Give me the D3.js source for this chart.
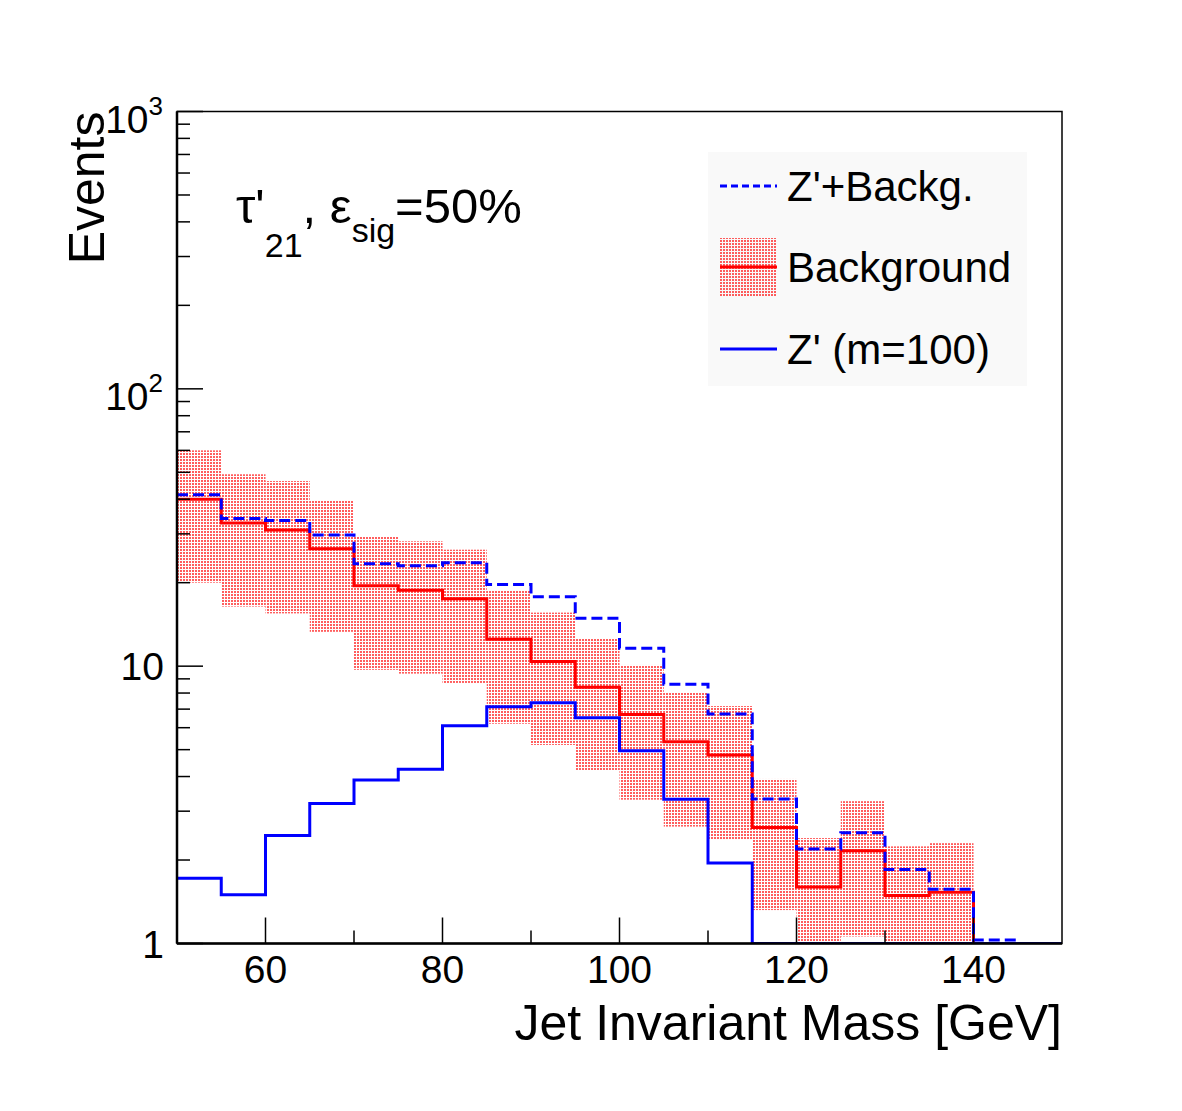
<!DOCTYPE html>
<html>
<head>
<meta charset="utf-8">
<script src="https://cdn.jsdelivr.net/npm/d3@7"></script>
<style>
body { margin: 0; background: #fff; }
text { font-family: "Liberation Sans", Arial, Helvetica, sans-serif; fill: #000; }
</style>
</head>
<body>
<div id="chart"></div>
<script>
// Jet mass histogram, log y

//data
var binLow = [50, 55, 60, 65, 70, 75, 80, 85, 90, 95, 100, 105, 110, 115, 120, 125, 130, 135, 140, 145];
var binWidth = 5;

var background = [40.0, 32.8, 31.0, 26.5, 19.5, 18.8, 17.5, 12.5, 10.4, 8.4, 6.7, 5.34, 4.78, 2.62, 1.60, 2.16, 1.49, 1.53, 0.5, 0];
var backgroundErr = [20.0, 16.4, 15.5, 13.2, 9.8, 9.4, 8.8, 6.3, 5.2, 4.2, 3.4, 2.7, 2.4, 1.3, 0.8, 1.1, 0.75, 0.77, 0.25, 0];
var signal = [1.72, 1.50, 2.45, 3.20, 3.89, 4.25, 6.10, 7.14, 7.38, 6.52, 4.95, 3.31, 1.95, 0.7, 0.59, 0.35, 0.36, 0.04, 0.53, 0];
var total = [41.5, 34.1, 33.5, 29.7, 23.4, 23.0, 23.6, 19.7, 17.8, 14.9, 11.6, 8.61, 6.72, 3.32, 2.19, 2.51, 1.85, 1.57, 1.03, 0];

var xTicks = [60, 80, 100, 120, 140];
var xMinorTicks = [70, 90, 110, 130];
var legendLabels = ["Z'+Backg.", "Background", "Z' (m=100)"];

var W = 1182, H = 1111;
var m = [111.5, 120, 167.5, 177]; //top right bottom left
var x0 = m[3], x1 = W - m[1], y0 = m[0], y1 = H - m[2];
var yMin = 1, yMax = 1000;

var x = d3.scaleLinear().domain([50, 150]).range([x0, x1]);
var y = d3.scaleLog().domain([yMin, yMax]).range([y1, y0]);

function yc(v) { return y(Math.max(yMin, Math.min(yMax, v))); }

var svg = d3.select("#chart").append("svg")
	.attr("width", W)
	.attr("height", H);

var defs = svg.append("defs");

// dotted fill like ROOT style 3001
var pat = defs.append("pattern")
	.attr("id", "dots")
	.attr("patternUnits", "userSpaceOnUse")
	.attr("width", 3)
	.attr("height", 3);
pat.append("rect")
	.attr("width", 2).attr("height", 2)
	.attr("fill", "#ff1a1a")
	.attr("fill-opacity", 0.7);

defs.append("clipPath")
	.attr("id", "clip")
	.append("rect")
	.attr("x", x0).attr("y", y0)
	.attr("width", x1 - x0).attr("height", y1 - y0);

var plot = svg.append("g").attr("clip-path", "url(#clip)");

// error band
plot.append("g").selectAll("rect")
	.data(binLow.map(function(d, i) { return {lowEdge: d, lo: background[i] - backgroundErr[i], hi: background[i] + backgroundErr[i]}; })
		.filter(function(d) { return d.hi > yMin; }))
	.enter().append("rect")
	.attr("x", function(d) { return x(d.lowEdge); })
	.attr("width", function(d) { return x(d.lowEdge + binWidth) - x(d.lowEdge); })
	.attr("y", function(d) { return yc(d.hi); })
	.attr("height", function(d) { return yc(Math.max(d.lo, yMin)) - yc(d.hi); })
	.attr("fill", "url(#dots)");

// step path for a histogram
function stepPath(vals) {
	var p = "";
	vals.forEach(function(v, i) {
		var yy = yc(v);
		p += (i === 0 ? "M" : "L") + x(binLow[i]) + "," + yy + "L" + x(binLow[i] + binWidth) + "," + yy;
	});
	return p;
}

plot.append("path")
	.attr("d", stepPath(background))
	.attr("fill", "none")
	.attr("stroke", "#ff0000")
	.attr("stroke-width", 3);

plot.append("path")
	.attr("d", stepPath(signal))
	.attr("fill", "none")
	.attr("stroke", "#0000ff")
	.attr("stroke-width", 3);

plot.append("path")
	.attr("d", stepPath(total))
	.attr("fill", "none")
	.attr("stroke", "#0000ff")
	.attr("stroke-width", 3)
	.attr("stroke-dasharray", "11,5");

// frame
svg.append("rect")
	.attr("x", x0).attr("y", y0)
	.attr("width", x1 - x0).attr("height", y1 - y0)
	.attr("fill", "none")
	.attr("stroke", "#000")
	.attr("stroke-width", 1.5);
svg.append("line")
	.attr("x1", x0).attr("x2", x0).attr("y1", y0).attr("y2", y1)
	.attr("stroke", "#000").attr("stroke-width", 2.5);
svg.append("line")
	.attr("x1", x0).attr("x2", x1).attr("y1", y1).attr("y2", y1)
	.attr("stroke", "#000").attr("stroke-width", 2.5);

// x ticks
svg.append("g").selectAll("line")
	.data(xTicks.concat(xMinorTicks))
	.enter().append("line")
	.attr("x1", function(d) { return x(d); })
	.attr("x2", function(d) { return x(d); })
	.attr("y1", y1)
	.attr("y2", function(d) { return xTicks.indexOf(d) >= 0 ? y1 - 26 : y1 - 13; })
	.attr("stroke", "#000").attr("stroke-width", 1.5);

svg.append("g").selectAll("text")
	.data(xTicks)
	.enter().append("text")
	.text(function(d) { return d; })
	.attr("x", function(d) { return x(d); })
	.attr("y", 983)
	.attr("text-anchor", "middle")
	.style("font-size", "39px");

// y ticks
var yTicks = y.ticks();
svg.append("g").selectAll("line")
	.data(yTicks)
	.enter().append("line")
	.attr("x1", x0)
	.attr("x2", function(d) { return Number.isInteger(Math.log10(d)) ? x0 + 26 : x0 + 13; })
	.attr("y1", function(d) { return y(d); })
	.attr("y2", function(d) { return y(d); })
	.attr("stroke", "#000").attr("stroke-width", 1.5);

var yLabels = svg.append("g").selectAll("text")
	.data(yTicks.filter(function(d) { return Number.isInteger(Math.log10(d)); }))
	.enter().append("text")
	.attr("text-anchor", "end")
	.style("font-size", "39px");

yLabels.each(function(d) {
	var t = d3.select(this);
	var e = Math.round(Math.log10(d));
	if (e < 2) {
		t.attr("x", 164).attr("y", y(d) + 14).text(d);
	} else {
		t.attr("x", 163).attr("y", y(d) + 21);
		t.append("tspan").text("10");
		t.append("tspan").text(e)
			.attr("dy", -18)
			.style("font-size", "26px");
	}
});

// axis titles
svg.append("text")
	.text("Jet Invariant Mass [GeV]")
	.attr("x", x1)
	.attr("y", 1040)
	.attr("text-anchor", "end")
	.style("font-size", "50px");

svg.append("text")
	.text("Events")
	.attr("transform", "translate(104," + y0 + ") rotate(-90)")
	.attr("text-anchor", "end")
	.style("font-size", "50px");

// label
var lab = svg.append("text")
	.attr("x", 236)
	.attr("y", 223)
	.style("font-size", "49px");
lab.append("tspan").text("\u03c4'");
lab.append("tspan").text("21").attr("dy", 34).style("font-size", "34px");
lab.append("tspan").text(", \u03b5").attr("dy", -34);
lab.append("tspan").text("sig").attr("dy", 19).style("font-size", "34px");
lab.append("tspan").text("=50%").attr("dy", -19);

// legend
var leg = svg.append("g");
leg.append("rect")
	.attr("x", 708).attr("y", 152)
	.attr("width", 319).attr("height", 234)
	.attr("fill", "#f9f9f9");

var rowY = [186, 267, 349];

leg.append("line")
	.attr("x1", 720).attr("x2", 777).attr("y1", rowY[0]).attr("y2", rowY[0])
	.attr("stroke", "#0000ff").attr("stroke-width", 3).attr("stroke-dasharray", "7,4");

leg.append("rect")
	.attr("x", 720).attr("y", rowY[1] - 29)
	.attr("width", 57).attr("height", 58)
	.attr("fill", "url(#dots)");
leg.append("line")
	.attr("x1", 720).attr("x2", 777).attr("y1", rowY[1]).attr("y2", rowY[1])
	.attr("stroke", "#ff0000").attr("stroke-width", 3);

leg.append("line")
	.attr("x1", 720).attr("x2", 777).attr("y1", rowY[2]).attr("y2", rowY[2])
	.attr("stroke", "#0000ff").attr("stroke-width", 3);

leg.selectAll(".legText")
	.data(legendLabels)
	.enter().append("text")
	.text(function(d) { return d; })
	.attr("x", 787)
	.attr("y", function(d, i) { return rowY[i] + 15; })
	.style("font-size", "42px");
</script>
</body>
</html>
